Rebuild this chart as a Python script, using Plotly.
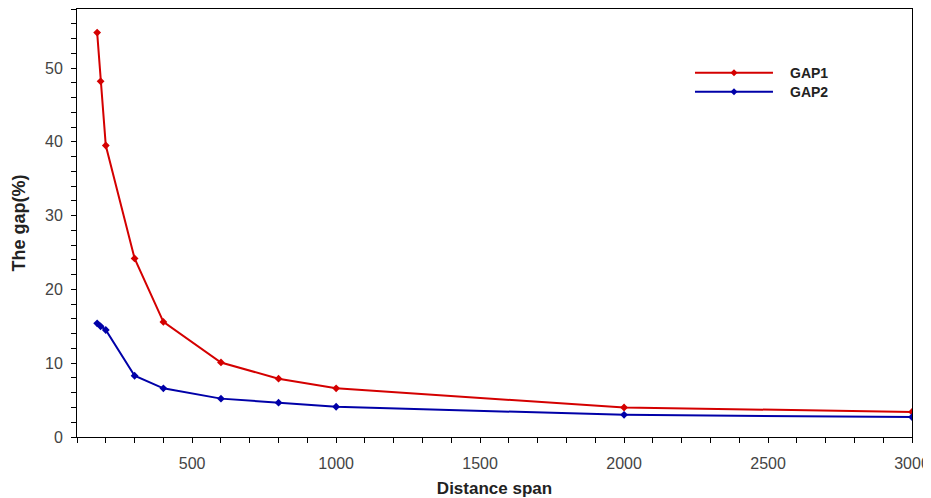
import plotly.graph_objects as go

distance = [170, 182, 200, 300, 400, 600, 800, 1000, 2000, 3000]
gap1 = [54.8, 48.2, 39.5, 24.2, 15.6, 10.1, 7.9, 6.6, 4.0, 3.4]
gap2 = [15.4, 15.0, 14.5, 8.3, 6.6, 5.2, 4.65, 4.1, 3.0, 2.7]

x_ticks = [500, 1000, 1500, 2000, 2500, 3000]
y_ticks = [0, 10, 20, 30, 40, 50]

series_names = ["GAP1", "GAP2"]
series_colors = ["#d40000", "#0000a8"]

FONT = "Liberation Sans, Arial, sans-serif"

fig = go.Figure()
for name, ys, col in zip(series_names, [gap1, gap2], series_colors):
    fig.add_trace(go.Scatter(x=distance, y=ys, name=name, mode="lines+markers",
                             line=dict(color=col, width=2),
                             marker=dict(symbol="diamond", size=6, color=col),
                             showlegend=False))

# manual legend (long line sample with a marker in the middle, like the original)
leg_x0, leg_x1, leg_xm, leg_xt = 0.7401, 0.8335, 0.7868, 0.8515
leg_y = [0.8512, 0.8068]
dx, dy = 3.5 / 835, 3.5 / 428
shapes = []
annotations = []
for name, col, yy in zip(series_names, series_colors, leg_y):
    shapes.append(dict(type="line", xref="paper", yref="paper", x0=leg_x0, x1=leg_x1, y0=yy, y1=yy,
                       line=dict(color=col, width=2)))
    shapes.append(dict(type="path", xref="paper", yref="paper",
                       path=f"M{leg_xm-dx},{yy} L{leg_xm},{yy+dy} L{leg_xm+dx},{yy} L{leg_xm},{yy-dy} Z",
                       fillcolor=col, line=dict(color=col, width=0)))
    annotations.append(dict(text=f"<b>{name}</b>", xref="paper", yref="paper", x=leg_xt, y=yy,
                            xanchor="left", yanchor="middle", showarrow=False,
                            font=dict(family=FONT, size=14, color="#222")))

fig.update_layout(
    width=923, height=490,
    margin=dict(l=69, r=19, t=1, b=61, autoexpand=False),
    paper_bgcolor="white", plot_bgcolor="white",
    showlegend=False,
    shapes=shapes, annotations=annotations,
    font=dict(family=FONT, color="#444"),
)
fig.update_xaxes(
    range=[100, 3000], tickvals=x_ticks, ticktext=[str(v) for v in x_ticks],
    showgrid=False, zeroline=False, showline=True, linecolor="black", linewidth=1, mirror=True,
    ticks="outside", ticklen=5, tickcolor="black", ticklabelstandoff=7,
    minor=dict(dtick=100, tick0=100, ticks="outside", ticklen=5, tickcolor="black", showgrid=False),
    tickfont=dict(family=FONT, size=16, color="#444"),
    automargin=False,
    title=dict(text="<b>Distance span</b>", font=dict(family=FONT, size=17, color="#222"), standoff=13),
)
fig.update_yaxes(
    range=[0, 58], tickvals=y_ticks, ticktext=[str(v) for v in y_ticks],
    showgrid=False, zeroline=False, showline=True, linecolor="black", linewidth=1, mirror=True,
    ticks="outside", ticklen=5, tickcolor="black", ticklabelstandoff=5,
    minor=dict(dtick=2, tick0=0, ticks="outside", ticklen=5, tickcolor="black", showgrid=False),
    tickfont=dict(family=FONT, size=16, color="#444"),
    automargin=False,
    title=dict(text="<b>The gap(%)</b>", font=dict(family=FONT, size=18, color="#222"), standoff=14),
)

fig.write_html("out.html")
